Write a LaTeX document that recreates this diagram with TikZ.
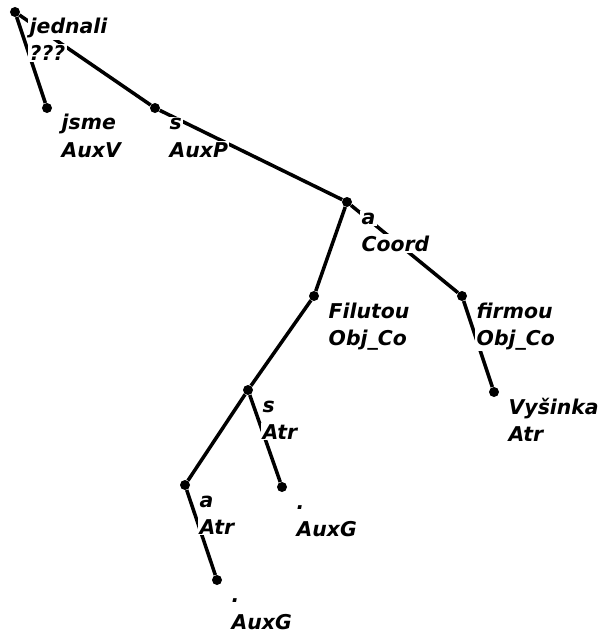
\documentclass[tikz,border=0pt]{standalone}
\usepackage{fontspec}
\newfontfamily\treefont{DejaVu Sans}
\usetikzlibrary{positioning}

\begin{document}
\begin{tikzpicture}[
        x=0.025cm,
        y=-0.025cm,
        edge/.style={line width=2.5pt},
        dot/.style={circle, fill=black, inner sep=0pt, minimum size=0.25cm},
        word/.style={fill=white, inner sep=1pt, anchor=base west,
            font=\treefont\bfseries\itshape\fontsize{14.5}{17}\selectfont},
        afun/.style={word}
    ]
        \useasboundingbox (0,0) rectangle (600,637);

        % tree nodes
        \foreach \n/\x/\y in {jednali/15/12, jsme/47/108, s1/155/108, a1/347/202,
                filutou/314/296, firmou/462/296, s2/248/390, vysinka/494/392,
                a2/185/485, auxg1/282/487, auxg2/217/580}{
            \node[dot] (\n) at (\x,\y) {};
        }

        % dependencies
        \draw[edge] (jednali) -- (jsme);
        \draw[edge] (jednali) -- (s1);
        \draw[edge] (s1) -- (a1);
        \draw[edge] (a1) -- (filutou);
        \draw[edge] (a1) -- (firmou);
        \draw[edge] (filutou) -- (s2);
        \draw[edge] (firmou) -- (vysinka);
        \draw[edge] (s2) -- (a2);
        \draw[edge] (s2) -- (auxg1);
        \draw[edge] (a2) -- (auxg2);

        % word form and analytical function
        \foreach \n/\w/\f in {jednali/jednali/???, jsme/jsme/AuxV, s1/s/AuxP,
                a1/a/Coord, filutou/Filutou/Obj\_Co, firmou/firmou/Obj\_Co,
                s2/s/Atr, vysinka/Vyšinka/Atr, a2/a/Atr, auxg1/./AuxG, auxg2/./AuxG}{
            \node[word] (\n-w) at ([shift={(13,22)}]\n) {\w};
            \node[afun] (\n-f) at ([shift={(0,27)}]\n-w.base west) {\f};
        }
    \end{tikzpicture}
\end{document}
